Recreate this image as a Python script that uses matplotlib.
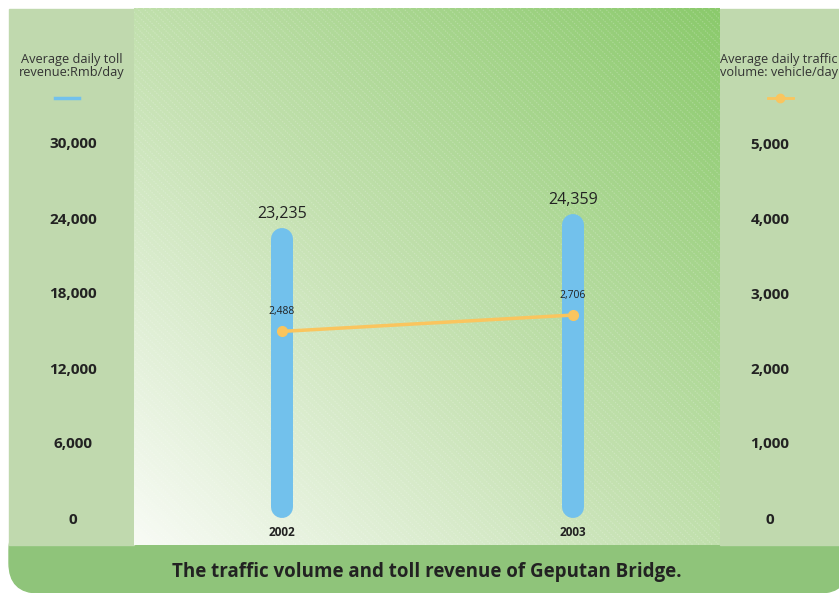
import numpy as np
import matplotlib
matplotlib.use('Agg')
import matplotlib.pyplot as plt
from matplotlib.patches import Rectangle, FancyBboxPatch
from matplotlib.colors import LinearSegmentedColormap

plt.rcParams['font.family'] = ['Open Sans', 'DejaVu Sans']

# data
years = ['2002', '2003']
revenue = [23235, 24359]        # Rmb/day
traffic = [2488, 2706]          # vehicle/day
rev_ticks = [0, 6000, 12000, 18000, 24000, 30000]
traf_ticks = [0, 1000, 2000, 3000, 4000, 5000]

W, H = 839, 593
fig = plt.figure(figsize=(W / 100, H / 100), dpi=100)

def fx(px):
    return px / W

def fy(py):
    return 1 - py / H

side = '#c0d9ae'
band = '#8fc47a'
blue = '#72c1ec'
orange = '#fac55e'
dark = '#222222'

# bottom band with rounded lower corners (sits under the panels)
fig.patches.append(FancyBboxPatch((fx(9), fy(593)), fx(849) - fx(9), fy(520) - fy(593),
                                  boxstyle='round,pad=0,rounding_size=%f' % (30 / W),
                                  mutation_aspect=W / H,
                                  transform=fig.transFigure, color=band, zorder=-2))
# side panels
fig.patches.append(Rectangle((fx(9), fy(545)), fx(134) - fx(9), fy(9) - fy(545),
                             transform=fig.transFigure, color=side, zorder=-1))
fig.patches.append(Rectangle((fx(720), fy(545)), fx(839) - fx(720), fy(9) - fy(545),
                             transform=fig.transFigure, color=side, zorder=-1))

# background gradient panel
bg = fig.add_axes([fx(134), fy(545), fx(720) - fx(134), fy(8) - fy(545)], zorder=0)
pw, ph = 720 - 134, 545 - 8
gx, gy = np.meshgrid(np.linspace(0, 1, 300), np.linspace(0, 1, 300))
s = (gx + gy) / 2
cmap = LinearSegmentedColormap.from_list('g', [(0, '#f8fbf5'), (0.45, '#c6e2b3'), (1, '#8bca6c')])
bg.imshow(cmap(s), aspect='auto', extent=(0, pw, 0, ph), origin='lower', interpolation='bilinear')
for c in np.arange(0, pw + ph, 6.5):
    bg.plot([c - ph, c], [ph, 0], color='white', alpha=0.22, lw=0.8, ls=(0, (1.2, 1.2)))
bg.set_xlim(0, pw)
bg.set_ylim(0, ph)
bg.axis('off')

# main axes
ax = fig.add_axes([fx(134), fy(545), fx(720) - fx(134), fy(9) - fy(545)], zorder=1)
ax.patch.set_alpha(0)
ppu = 375 / 30000
ax.set_ylim(-(545 - 518) / ppu, (518 - 9) / ppu)
ax.set_xlim(-(282 - 134) / 291, (720 - 282) / 291)
ax2 = ax.twinx()
ax2.set_ylim(ax.get_ylim()[0] / 6, ax.get_ylim()[1] / 6)

x = np.arange(len(years))
bar_px = 22
r = (bar_px / 2) / ppu
for xi, v in zip(x, revenue):
    ax.plot([xi, xi], [r, v - r], color=blue, lw=bar_px * 0.72,
            solid_capstyle='round', zorder=2)
    ax.annotate(f'{v:,}', (xi, v), xytext=(0, 6), textcoords='offset pixels',
                ha='center', va='bottom', fontsize=11.5, color=dark)

ax2.plot(x, traffic, color=orange, lw=2.5, marker='o', markersize=7, zorder=3)
for xi, v in zip(x, traffic):
    ax2.annotate(f'{v:,}', (xi, v), xytext=(0, 14), textcoords='offset pixels',
                 ha='center', va='bottom', fontsize=7.5, color=dark)

for a in (ax, ax2):
    for sp in a.spines.values():
        sp.set_visible(False)

ax.set_yticks(rev_ticks)
ax.set_yticklabels([f'{v:,}' for v in rev_ticks], fontsize=11, fontweight='bold', color=dark)
ax.tick_params(axis='y', length=0, pad=44)
for lab in ax.get_yticklabels():
    lab.set_ha('center')
ax2.set_yticks(traf_ticks)
ax2.set_yticklabels([f'{v:,}' for v in traf_ticks], fontsize=11, fontweight='bold', color=dark)
ax2.tick_params(axis='y', length=0, pad=36)
for lab in ax2.get_yticklabels():
    lab.set_ha('center')

ax.set_xticks([])
for xi, yr in zip(x, years):
    ax.annotate(yr, (xi, 0), xytext=(0, -14), textcoords='offset pixels',
                ha='center', va='center', fontsize=8.5, fontweight='bold', color=dark)

# legend texts
fig.text(fx(72), fy(66), 'Average daily toll\nrevenue:Rmb/day', ha='center', va='center',
         fontsize=9.2, color='#333333', linespacing=1.05)
fig.lines.append(plt.Line2D([fx(55), fx(79)], [fy(98), fy(98)], transform=fig.transFigure,
                            color=blue, lw=2.5))
fig.text(fx(720), fy(66), 'Average daily traffic\nvolume: vehicle/day', ha='left', va='center',
         fontsize=9.2, color='#333333', linespacing=1.05)
fig.lines.append(plt.Line2D([fx(768), fx(780), fx(793)], [fy(98)] * 3, transform=fig.transFigure,
                            color=orange, lw=2, marker='o', markevery=[1], markersize=6))

fig.text(fx(427), fy(572), 'The traffic volume and toll revenue of Geputan Bridge.',
         ha='center', va='center', fontsize=13.5, fontweight='bold', color=dark)

fig.savefig('out.png', dpi=100)
